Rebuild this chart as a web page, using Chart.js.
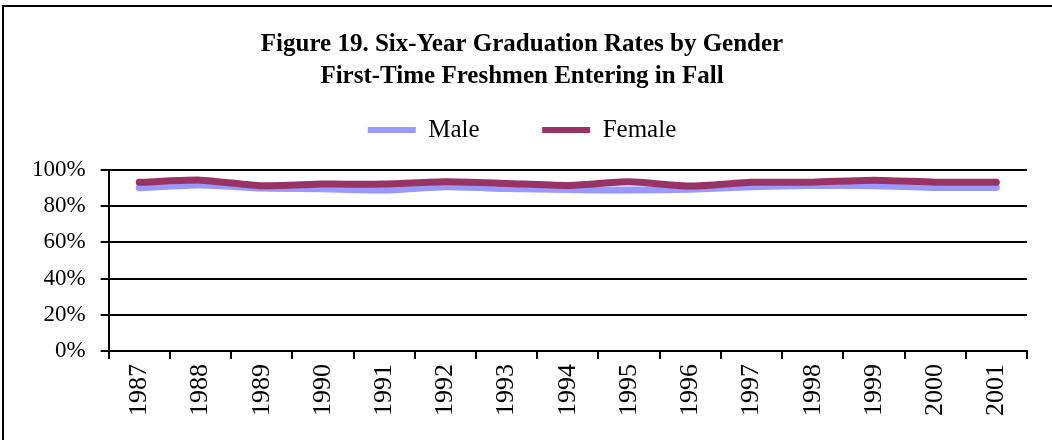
<!DOCTYPE html>
<html>
<head>
<meta charset="utf-8">
<script src="https://cdn.jsdelivr.net/npm/chart.js@4/dist/chart.umd.min.js"></script>
<style>
  html, body { margin: 0; padding: 0; background: #fff; }
  #wrap { width: 1052px; height: 440px; position: relative; }
</style>
</head>
<body>
<div id="wrap"><canvas id="chart" width="1052" height="440"></canvas></div>
<script>
const years = ['1987', '1988', '1989', '1990', '1991', '1992', '1993', '1994', '1995', '1996', '1997', '1998', '1999', '2000', '2001'];
const male = [90.2, 91.7, 90.0, 89.6, 88.9, 90.7, 89.8, 89.2, 88.9, 89.3, 90.7, 91.5, 91.3, 90.4, 90.4];
const female = [93.2, 94.4, 91.3, 92.2, 92.2, 93.5, 92.6, 91.5, 93.5, 91.1, 93.2, 93.3, 94.4, 93.3, 93.3];
const titleLines = ['Figure 19. Six-Year Graduation Rates by Gender', 'First-Time Freshmen Entering in Fall'];
const yTicks = [0, 20, 40, 60, 80, 100];

const serif = "'Liberation Serif', 'Times New Roman', serif";
const legendGap = 62.5;   // space between legend items
const legendExtra = 17.5; // extra room under the legend

// outer frame, only top and left edge show in the window
const framePlugin = {
  id: 'frame',
  beforeDraw(chart) {
    const c = chart.ctx;
    c.save();
    c.fillStyle = '#fff';
    c.fillRect(0, 0, chart.width, chart.height);
    c.strokeStyle = '#000';
    c.lineWidth = 2;
    c.strokeRect(3, 6, chart.width + 20, chart.height + 20);
    c.restore();
  }
};

// the wide horizontal gap between legend items also grows the legend box; add a bit more room below
const legendFitPlugin = {
  id: 'legendFit',
  beforeUpdate(chart) {
    const lg = chart.legend;
    if (lg && !lg._fitPatched) {
      const fit = lg.fit;
      lg.fit = function () {
        fit.call(this);
        this.height += legendExtra;
      };
      lg._fitPatched = true;
    }
  }
};

new Chart(document.getElementById('chart').getContext('2d'), {
  type: 'line',
  data: {
    labels: years,
    datasets: [
      { label: 'Male', data: male, order: 1, borderColor: '#9999ff', backgroundColor: '#9999ff', borderWidth: 7, pointRadius: 0, tension: 0.2, borderCapStyle: 'round' },
      { label: 'Female', data: female, order: 0, borderColor: '#993366', backgroundColor: '#993366', borderWidth: 7, pointRadius: 0, tension: 0.2, borderCapStyle: 'round' }
    ]
  },
  options: {
    responsive: false,
    animation: false,
    layout: { padding: { top: 10, left: 17, right: 25, bottom: 19 } },
    plugins: {
      title: {
        display: true,
        text: titleLines,
        color: '#000',
        font: { family: serif, size: 25, weight: 'bold', lineHeight: 1.28 },
        padding: { top: 19, bottom: -38 }
      },
      legend: {
        labels: {
          color: '#000',
          font: { family: serif, size: 25 },
          boxWidth: 48,
          boxHeight: 6,
          padding: legendGap,
          generateLabels(chart) {
            const items = Chart.defaults.plugins.legend.labels.generateLabels(chart);
            items.forEach(it => { it.lineWidth = 0; });
            items.sort((a, b) => a.datasetIndex - b.datasetIndex);
            return items;
          }
        }
      },
      tooltip: { enabled: false }
    },
    scales: {
      x: {
        offset: true,
        grid: { offset: true, drawOnChartArea: false, color: '#000', lineWidth: 2, tickLength: 8 },
        border: { color: '#000', width: 2 },
        ticks: { color: '#000', font: { family: serif, size: 26 }, minRotation: 90, maxRotation: 90, padding: 5, autoSkip: false }
      },
      y: {
        min: 0,
        max: 100,
        afterBuildTicks(scale) { scale.ticks = yTicks.map(v => ({ value: v })); },
        grid: { color: '#000', lineWidth: 2, tickLength: 8 },
        border: { color: '#000', width: 2 },
        ticks: { color: '#000', font: { family: serif, size: 23 }, padding: 15, autoSkip: false, callback: v => v + '%' }
      }
    }
  },
  plugins: [framePlugin, legendFitPlugin]
});
</script>
</body>
</html>
